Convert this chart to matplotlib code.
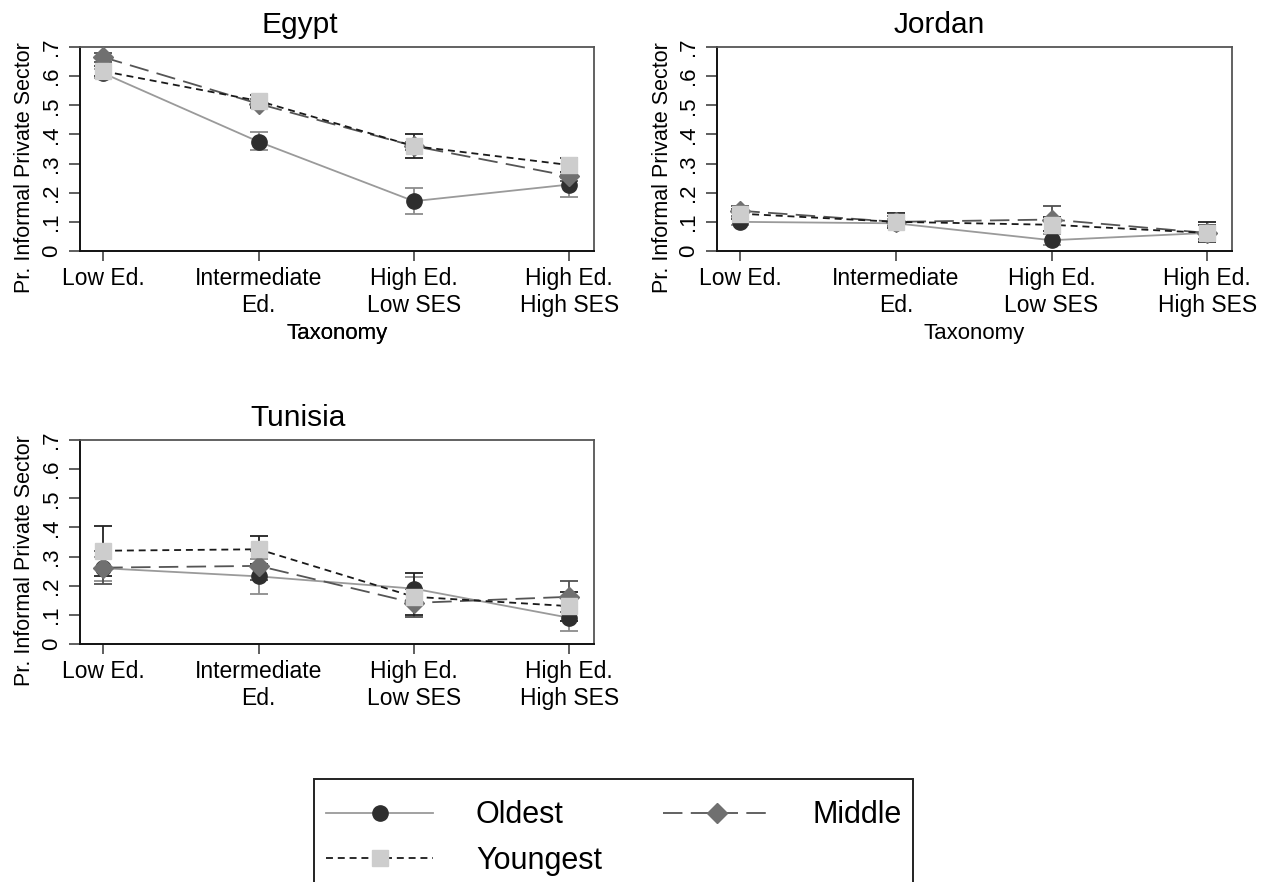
import numpy as np
import matplotlib
matplotlib.use("Agg")
import matplotlib.pyplot as plt
from matplotlib.lines import Line2D
from matplotlib.patches import Rectangle

plt.rcParams['font.family'] = ['Liberation Sans', 'DejaVu Sans']
plt.rcParams['lines.scale_dashes'] = False

categories = ["Low Ed.", "Intermediate\nEd.", "High Ed.\nLow SES", "High Ed.\nHigh SES"]
yticklabels = ["0", ".1", ".2", ".3", ".4", ".5", ".6", ".7"]
series = ["Oldest", "Middle", "Youngest"]

# Egypt
egypt_oldest = [0.610, 0.375, 0.171, 0.228]
egypt_oldest_lo = [0.595, 0.346, 0.128, 0.186]
egypt_oldest_hi = [0.625, 0.408, 0.217, 0.250]
egypt_middle = [0.665, 0.505, 0.360, 0.257]
egypt_middle_lo = [0.650, 0.490, 0.345, 0.240]
egypt_middle_hi = [0.680, 0.520, 0.375, 0.272]
egypt_youngest = [0.617, 0.515, 0.360, 0.295]
egypt_youngest_lo = [0.600, 0.495, 0.320, 0.270]
egypt_youngest_hi = [0.635, 0.535, 0.400, 0.320]

# Jordan
jordan_oldest = [0.100, 0.095, 0.037, 0.062]
jordan_oldest_lo = [0.090, 0.080, 0.020, 0.035]
jordan_oldest_hi = [0.115, 0.110, 0.060, 0.090]
jordan_middle = [0.138, 0.100, 0.108, 0.062]
jordan_middle_lo = [0.120, 0.085, 0.070, 0.040]
jordan_middle_hi = [0.155, 0.120, 0.154, 0.090]
jordan_youngest = [0.128, 0.100, 0.090, 0.062]
jordan_youngest_lo = [0.110, 0.080, 0.070, 0.030]
jordan_youngest_hi = [0.145, 0.130, 0.115, 0.100]

# Tunisia
tunisia_oldest = [0.260, 0.232, 0.190, 0.090]
tunisia_oldest_lo = [0.215, 0.172, 0.150, 0.045]
tunisia_oldest_hi = [0.300, 0.290, 0.230, 0.130]
tunisia_middle = [0.262, 0.268, 0.141, 0.162]
tunisia_middle_lo = [0.205, 0.220, 0.094, 0.110]
tunisia_middle_hi = [0.320, 0.320, 0.190, 0.217]
tunisia_youngest = [0.320, 0.325, 0.162, 0.130]
tunisia_youngest_lo = [0.235, 0.275, 0.100, 0.080]
tunisia_youngest_hi = [0.404, 0.372, 0.242, 0.180]

panels = {
    "Egypt": [(egypt_oldest, egypt_oldest_lo, egypt_oldest_hi),
              (egypt_middle, egypt_middle_lo, egypt_middle_hi),
              (egypt_youngest, egypt_youngest_lo, egypt_youngest_hi)],
    "Jordan": [(jordan_oldest, jordan_oldest_lo, jordan_oldest_hi),
               (jordan_middle, jordan_middle_lo, jordan_middle_hi),
               (jordan_youngest, jordan_youngest_lo, jordan_youngest_hi)],
    "Tunisia": [(tunisia_oldest, tunisia_oldest_lo, tunisia_oldest_hi),
                (tunisia_middle, tunisia_middle_lo, tunisia_middle_hi),
                (tunisia_youngest, tunisia_youngest_lo, tunisia_youngest_hi)],
}

styles = [
    dict(color="#9a9a9a", dashes=None, marker="o", mfc="#2e2e2e", mec="#2e2e2e", ms=11, ecolor="#8c8c8c"),
    dict(color="#555555", dashes=(14, 6), marker="D", mfc="#707070", mec="#707070", ms=10, ecolor="#505050"),
    dict(color="#1a1a1a", dashes=(5, 3.5), marker="s", mfc="#cdcdcd", mec="#cdcdcd", ms=11, ecolor="#222222"),
]

W, H = 1261, 882
fig = plt.figure(figsize=(W / 100, H / 100), dpi=100)

positions = {
    "Egypt": (80, 47, 594, 251, 300),
    "Jordan": (717, 47, 1232, 251, 939),
    "Tunisia": (80, 440, 594, 644, 298),
}

x = np.arange(1, 5)
for name, data in panels.items():
    l, t, r, b, tx = positions[name]
    ax = fig.add_axes([l / W, 1 - b / H, (r - l) / W, (b - t) / H])
    for (vals, lo, hi), st in zip(data, styles):
        vals = np.array(vals); lo = np.array(lo); hi = np.array(hi)
        ax.errorbar(x, vals, yerr=[vals - lo, hi - vals], fmt="none", ecolor=st["ecolor"],
                    elinewidth=1.3, capsize=6.5, capthick=1.3, zorder=2)
    for (vals, lo, hi), st in zip(data, styles):
        kw = dict(color=st["color"], lw=1.3, marker=st["marker"], ms=st["ms"],
                  mfc=st["mfc"], mec=st["mec"], zorder=3)
        if st["dashes"] is not None:
            kw["dashes"] = st["dashes"]
        ax.plot(x, vals, **kw)
    ax.set_xlim(0.85, 4.16)
    ax.set_ylim(0, 0.7)
    ax.set_xticks(x)
    ax.set_xticklabels(categories, fontsize=16.5, linespacing=1.2)
    ax.set_yticks(np.arange(8) / 10)
    ax.set_yticklabels(yticklabels, fontsize=16, rotation=90, va="center", ha="right")
    ax.tick_params(axis="x", direction="out", length=7.5, width=1.1, color="#333333", pad=4)
    ax.tick_params(axis="y", direction="out", length=8, width=1.1, color="#333333", pad=5)
    ax.set_xlabel("Taxonomy", fontsize=16)
    ax.xaxis.set_label_coords(0.5, -(333 - b) / (b - t))
    ax.xaxis.label.set_va("center")
    ax.set_ylabel("Pr. Informal Private Sector", fontsize=15.5)
    ax.yaxis.set_label_coords(-55 / (r - l), 0.41)
    ax.yaxis.label.set_va("center")
    for sp in ["left", "bottom"]:
        ax.spines[sp].set_color("#111111")
        ax.spines[sp].set_linewidth(1.4)
    for sp in ["top", "right"]:
        ax.spines[sp].set_color("#555555")
        ax.spines[sp].set_linewidth(1.3)
    fig.text(tx / W, 1 - (t - 22) / H, name, fontsize=21.5, ha="center", va="center")

handles = []
for name, st in zip(series, styles):
    kw = dict(color=st["color"], lw=1.3, marker=st["marker"], ms=st["ms"],
              mfc=st["mfc"], mec=st["mec"])
    if st["dashes"] is not None:
        kw["dashes"] = st["dashes"]
    handles.append(Line2D([], [], **kw))

# legend frame (extends past the bottom edge, as in the reference)
fig.add_artist(Rectangle((314 / W, -0.05), (913 - 314) / W, 1 - 779 / H + 0.05,
                         transform=fig.transFigure, fill=False, edgecolor="#222222",
                         linewidth=1.4))
order = [0, 2, 1]
leg = fig.legend([handles[i] for i in order], [series[i] for i in order],
                 loc="upper left", bbox_to_anchor=(314 / W, 1 - 788 / H), ncol=2,
                 fontsize=22, frameon=False,
                 handlelength=3.5, handletextpad=1.4, columnspacing=2.0,
                 labelspacing=0.5, borderpad=0.4, borderaxespad=0)

fig.savefig("out.png", dpi=100)
